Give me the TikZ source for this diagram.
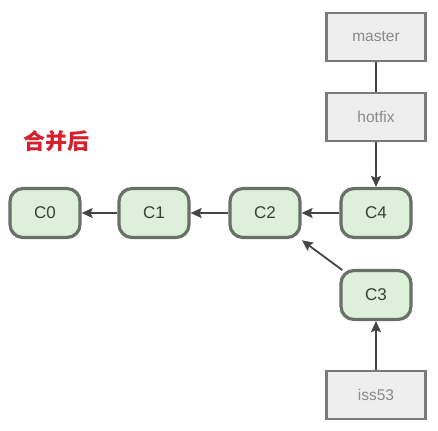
\documentclass[tikz,border=0pt]{standalone}
\usepackage{fontspec}
\setmainfont{Liberation Sans}
\newfontfamily\cjk{Noto Sans CJK SC}
\usetikzlibrary{arrows.meta}
\definecolor{commitfill}{HTML}{DDF0DA}
\definecolor{commitdraw}{HTML}{687068}
\definecolor{reffill}{HTML}{EEEEEE}
\definecolor{refdraw}{HTML}{7A7A7A}
\definecolor{reftext}{HTML}{8A8A8A}
\definecolor{commtext}{HTML}{334433}
\definecolor{titlered}{HTML}{D6202C}
\definecolor{linecol}{HTML}{444444}
\begin{document}
\begin{tikzpicture}[x=1pt,y=1pt,
  commit/.style={draw=commitdraw, fill=commitfill, line width=3.2pt, rounded corners=13pt,
    minimum width=70pt, minimum height=49pt, inner sep=0pt, font=\fontsize{17}{17}\selectfont, text=commtext},
  refbox/.style={draw=refdraw, fill=reffill, line width=2.6pt,
    minimum width=99pt, minimum height=48pt, inner sep=0pt, font=\fontsize{15.5}{15.5}\selectfont, text=reftext},
  conn/.style={draw=linecol, line width=1.8pt},
  arr/.style={conn, -{Stealth[length=11pt,width=10pt,inset=2pt]}}]
\useasboundingbox (0,0) rectangle (438,-430);
\fill[white] (0,0) rectangle (438,-430);
\node[commit] (C0) at (45,-213) {C0};
\node[commit] (C1) at (154,-213) {C1};
\node[commit] (C2) at (265,-213) {C2};
\node[commit] (C4) at (376,-213) {C4};
\node[commit] (C3) at (376,-295) {C3};
\node[refbox] (master) at (376,-37) {master};
\node[refbox] (hotfix) at (376,-117) {hotfix};
\node[refbox] (iss53) at (376,-395) {iss53};
\node[text=titlered, font=\cjk\bfseries\fontsize{22}{22}\selectfont] (title) at (56,-141) {合并后};
\begin{scope}[on background layer/.style={}]
\draw[conn] (master) -- (hotfix);
\draw[arr] (hotfix) -- (C4);
\draw[arr] (C4) -- (C2);
\draw[arr] (C2) -- (C1);
\draw[arr] (C1) -- (C0);
\draw[arr, shorten <=-2pt, shorten >=2pt] (C3) -- (C2);
\draw[arr] (iss53) -- (C3);
\end{scope}
\end{tikzpicture}
\end{document}
